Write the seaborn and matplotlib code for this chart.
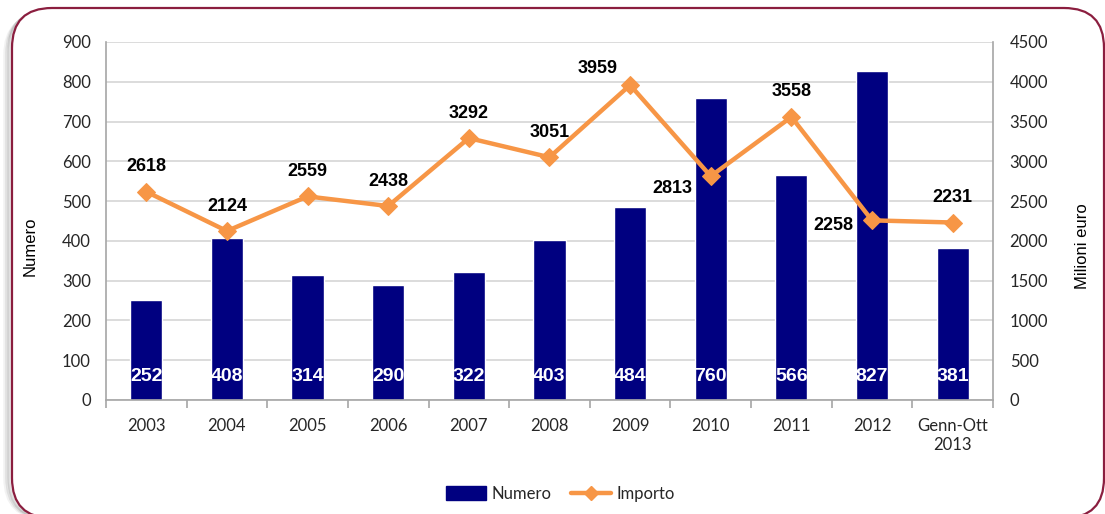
import numpy as np
import pandas as pd
import matplotlib
matplotlib.use("Agg")
import matplotlib.pyplot as plt
import seaborn as sns
from matplotlib.patches import FancyBboxPatch, Patch
from matplotlib.lines import Line2D
from matplotlib.transforms import IdentityTransform

# data
anni = ["2003", "2004", "2005", "2006", "2007", "2008", "2009", "2010", "2011", "2012", "Genn-Ott\n2013"]
numero = [252, 408, 314, 290, 322, 403, 484, 760, 566, 827, 381]
importo = [2618, 2124, 2559, 2438, 3292, 3051, 3959, 2813, 3558, 2258, 2231]

# label offsets for the line values (pixels), default is straight above
label_offsets = {"3959": (-32, 17), "2813": (-38, -12), "2258": (-39, -5)}

navy = "#000080"
orange = "#F79646"
axis_grey = "#A6A6A6"
txt = "#262626"

sns.set_theme(style="white")
plt.rcParams["font.family"] = ["Lato", "DejaVu Sans"]

df = pd.DataFrame({"anno": anni, "numero": numero, "importo": importo})

fig = plt.figure(figsize=(11.05, 5.14), dpi=100)
fig.patch.set_facecolor("white")

# rounded frame with a soft shadow on the left
for k, a in [(7, 0.05), (5, 0.08), (3, 0.12)]:
    fig.patches.append(FancyBboxPatch((12 - k, -4), 1092, 510 - k, boxstyle="round,pad=0,rounding_size=40",
                                      transform=IdentityTransform(), facecolor="none",
                                      edgecolor="black", alpha=a, lw=2.5, zorder=-10))
fig.patches.append(FancyBboxPatch((12, -4), 1092, 510, boxstyle="round,pad=0,rounding_size=40",
                                  transform=IdentityTransform(), facecolor="white",
                                  edgecolor="#8B1E3F", lw=1.6, zorder=-9))

ax = fig.add_axes([0.0959, 0.2218, 0.8027, 0.6965])
ax.set_facecolor("none")
sns.barplot(data=df, x="anno", y="numero", color=navy, saturation=1, width=0.4, ax=ax)
ax.set_xlim(-0.5, len(anni) - 0.5)
ax.set_ylim(0, 900)
ax.set_yticks(range(0, 1000, 100))
ax.yaxis.grid(True, color="#D9D9D9", lw=1.3)
ax.set_axisbelow(True)
ax.set_xlabel("")
ax.set_ylabel("Numero", fontsize=12, family="Liberation Sans", color="black")
ax.yaxis.set_label_coords(-0.077, 0.43)

for i, v in enumerate(numero):
    ax.text(i, 58, str(v), ha="center", va="center", color="white", fontsize=14,
            fontweight="bold", family="Liberation Sans")

ax2 = ax.twinx()
sns.lineplot(x=np.arange(len(importo)), y=importo, ax=ax2, color=orange, lw=3.2,
             marker="D", markersize=9, markeredgecolor=orange)
ax2.set_ylim(0, 4500)
ax2.set_yticks(range(0, 5000, 500))
ax2.set_ylabel("Milioni euro", fontsize=12, family="Liberation Sans", color="black")
ax2.yaxis.set_label_coords(1.0925, 0.43)

for i, v in enumerate(importo):
    dx, dy = label_offsets.get(str(v), (0, 25))
    ax2.annotate(str(v), (i, v), xytext=(dx, dy), textcoords="offset pixels",
                 ha="center", va="center", fontsize=13, fontweight="bold",
                 family="Liberation Sans", color="black")

# spines and ticks
for a in (ax, ax2):
    a.spines["top"].set_visible(False)
ax.spines["right"].set_visible(False)
ax2.spines["left"].set_visible(False)
ax2.spines["bottom"].set_visible(False)
ax.spines["left"].set_color(axis_grey)
ax.spines["bottom"].set_color(axis_grey)
ax2.spines["right"].set_color(axis_grey)
for s in ("left", "bottom"):
    ax.spines[s].set_linewidth(1.2)
ax2.spines["right"].set_linewidth(1.2)

ax.tick_params(axis="y", length=0, pad=11, labelsize=12, labelcolor=txt)
ax2.tick_params(axis="y", length=0, pad=12, labelsize=12, labelcolor=txt)
ax.tick_params(axis="x", which="major", length=0, pad=13, labelsize=12, labelcolor=txt)
ax.set_xticks(np.arange(-0.5, len(anni), 1), minor=True)
ax.tick_params(axis="x", which="minor", bottom=True, length=6, width=1.2, color=axis_grey)

handles = [Patch(facecolor=navy, edgecolor=navy),
           Line2D([0], [0], color=orange, lw=3.2, marker="D", markersize=7)]
fig.legend(handles, ["Numero", "Importo"], loc="center", bbox_to_anchor=(0.507, 0.039),
           ncol=2, frameon=False, fontsize=12, handlelength=2.4, handleheight=0.9,
           columnspacing=1.2, handletextpad=0.3, labelcolor=txt)

fig.savefig("out.png", dpi=100)
